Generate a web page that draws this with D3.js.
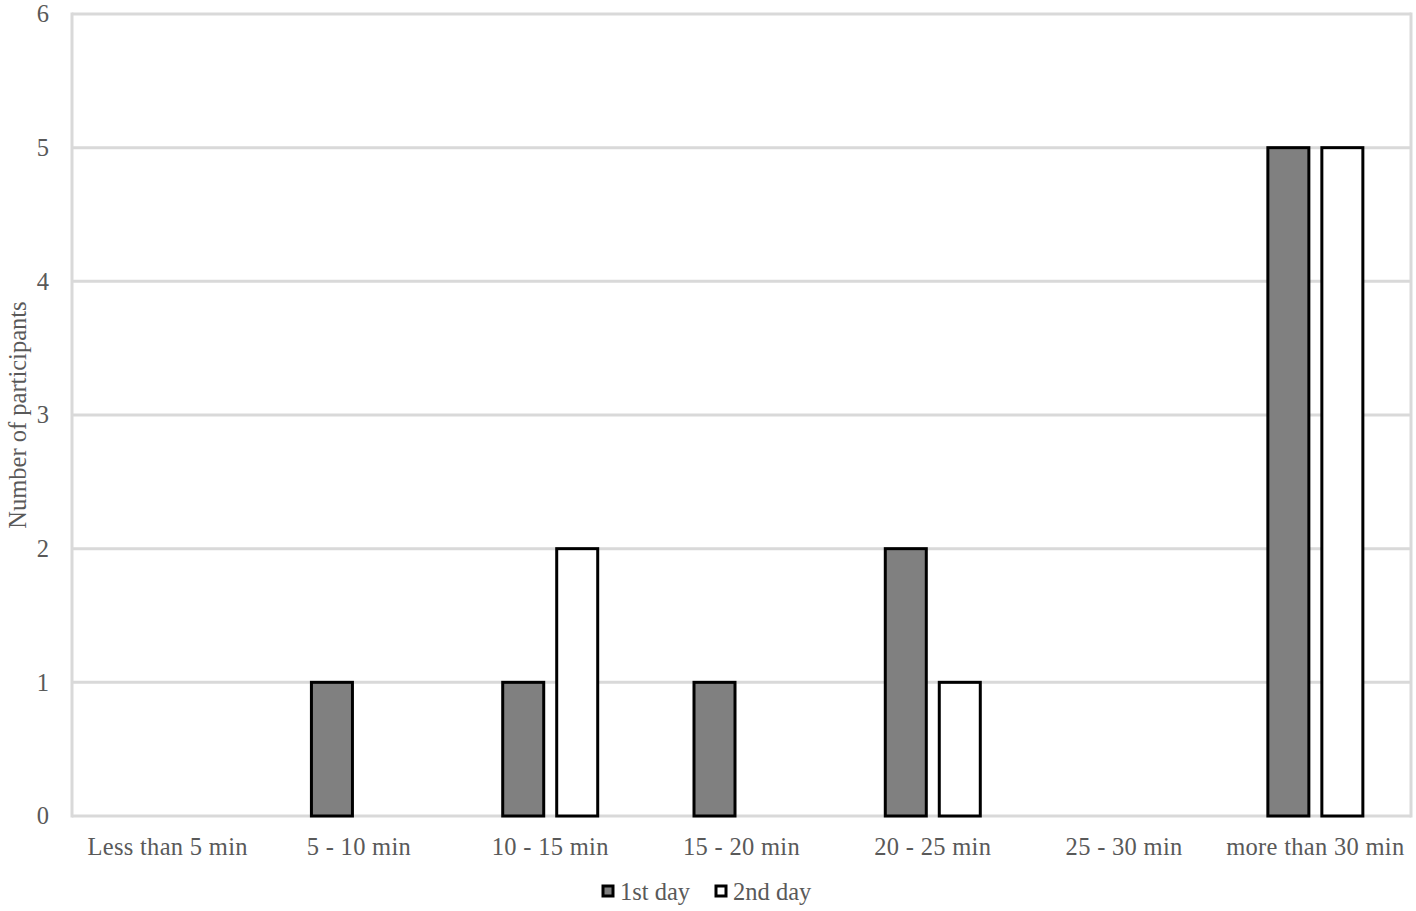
<!DOCTYPE html>
<html><head><meta charset="utf-8">
<script src="https://cdn.jsdelivr.net/npm/d3@7"></script>
<style>body{margin:0;background:#fff}svg{display:block}text{font-family:"Liberation Serif","Times New Roman",serif;fill:#595959}</style>
</head><body><svg id="c" width="1416" height="911"></svg>
<script>
const categories=["Less than 5 min","5 - 10 min","10 - 15 min","15 - 20 min","20 - 25 min","25 - 30 min","more than 30 min"];
const seriesNames=["1st day","2nd day"];
const day1=[0,1,1,1,2,0,5];
const day2=[0,0,2,0,1,0,5];
const yTicks=[0,1,2,3,4,5,6];
const fills=["#808080","#ffffff"];

const svg=d3.select("#c");
const L=72,R=1411,T=14,B=816;
const FS="24.5px";
const x=d3.scaleBand().domain(categories).range([L,R]).padding(0);
const y=d3.scaleLinear().domain([0,6]).range([B,T]);
const sub=d3.scaleBand().domain(seriesNames).range([-49,49]).paddingInner(0.185);

svg.append("g").selectAll("line").data(yTicks).join("line")
  .attr("x1",L).attr("x2",R).attr("y1",d=>y(d)).attr("y2",d=>y(d))
  .attr("stroke","#d9d9d9").attr("stroke-width",3);
svg.append("line").attr("x1",L).attr("x2",L).attr("y1",T-1.5).attr("y2",B+1.5).attr("stroke","#d9d9d9").attr("stroke-width",3);
svg.append("line").attr("x1",R).attr("x2",R).attr("y1",T-1.5).attr("y2",B+1.5).attr("stroke","#d9d9d9").attr("stroke-width",3);

const ya=svg.append("g").attr("transform",`translate(${L},0)`).call(d3.axisLeft(y).tickValues(yTicks).tickSize(0).tickPadding(23).tickFormat(d3.format("d")));
ya.select(".domain").remove();
ya.selectAll("text").style("font-family","Liberation Serif").style("font-size",FS).attr("fill","#595959");

const xa=svg.append("g").attr("transform",`translate(0,${B})`).call(d3.axisBottom(x).tickSize(0).tickPadding(22));
xa.select(".domain").remove();
xa.selectAll("text").style("font-family","Liberation Serif").style("font-size",FS).style("letter-spacing","0.3px").attr("fill","#595959");

const data=[day1,day2];
data.forEach((vals,si)=>{
  svg.append("g").selectAll("rect").data(vals.map((v,i)=>({c:categories[i],v}))).join("rect")
    .filter(d=>d.v>0)
    .attr("x",d=>x(d.c)+x.bandwidth()/2+sub(seriesNames[si])+1.5)
    .attr("width",sub.bandwidth()-3)
    .attr("y",d=>y(d.v))
    .attr("height",d=>y(0)-y(d.v))
    .attr("fill",fills[si]).attr("stroke","#000").attr("stroke-width",3);
});

svg.append("text").attr("transform","translate(26,415) rotate(-90)").attr("text-anchor","middle")
  .style("font-size",FS).text("Number of participants");

const leg=[{x:603,t:"1st day"},{x:716,t:"2nd day"}];
leg.forEach((l,i)=>{
  svg.append("rect").attr("x",l.x).attr("y",886).attr("width",10).attr("height",10)
    .attr("fill",fills[i]).attr("stroke","#000").attr("stroke-width",3);
  svg.append("text").attr("x",l.x+17).attr("y",900).style("font-size",FS).text(l.t);
});
</script></body></html>
